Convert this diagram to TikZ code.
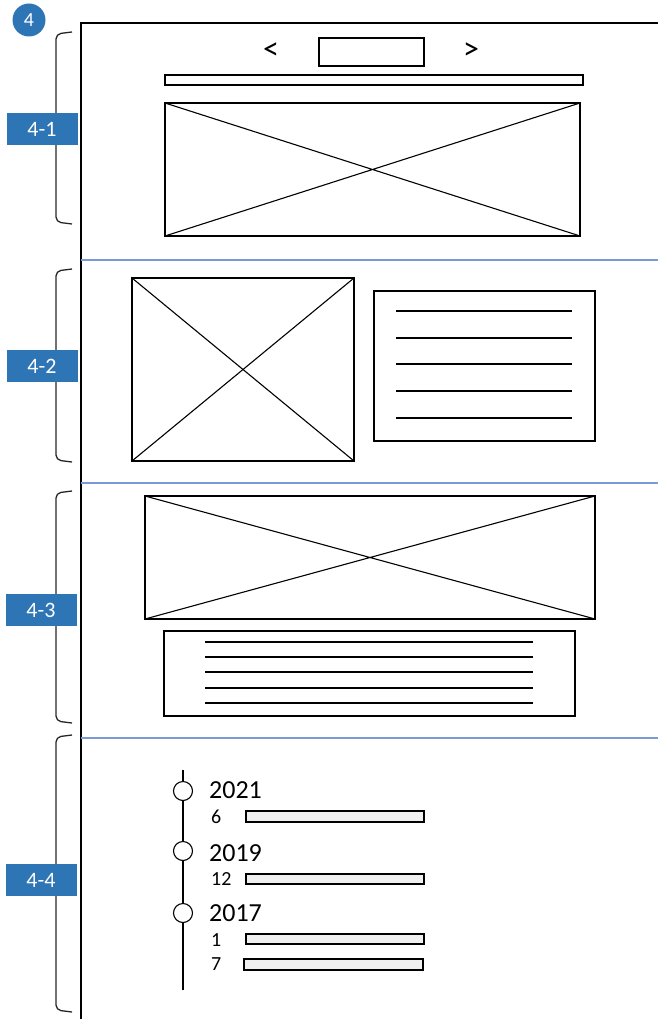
\documentclass[tikz,border=0pt]{standalone}
\usepackage{fontspec}
\setmainfont{Carlito}
\usepackage{xcolor}
\usepackage{tikz}
\usetikzlibrary{positioning}
\definecolor{tagblue}{RGB}{46, 117, 182}
\definecolor{sepblue}{RGB}{122, 153, 214}
\definecolor{barfill}{RGB}{240, 240, 240}

\begin{document}
\begin{tikzpicture}[
        x=1pt, y=-1pt,
        frame/.style={draw=black, line width=1.3pt},
        sep/.style={draw=sepblue, line width=1.3pt},
        brace/.style={draw=black!85, line width=1.3pt, rounded corners=5pt},
        wire/.style={draw=black, line width=1.1pt},
        tag/.style={rectangle, fill=tagblue, text=white, minimum width=71pt, minimum height=32pt, inner sep=0pt, font=\fontsize{22}{25}\selectfont},
        badge/.style={circle, fill=tagblue, text=white, minimum size=33pt, inner sep=0pt, font=\fontsize{20}{24}\selectfont},
        year/.style={anchor=west, inner sep=0pt, font=\fontsize{26}{30}\selectfont},
        month/.style={anchor=west, inner sep=0pt, font=\fontsize{20}{24}\selectfont},
        arrowtxt/.style={inner sep=0pt, font=\fontsize{32}{36}\selectfont},
        dot/.style={circle, draw=black, fill=white, line width=1.1pt, minimum size=19pt, inner sep=0pt},
        bar/.style={draw=black, fill=barfill, line width=1.1pt}
    ]
        \useasboundingbox (0,0) rectangle (658,1019);

        % Badge and page frame
        \node[badge] (badge) at (29,20) {4};
        \draw[frame] (81,1019) -- (81,23) -- (658,23);
        \draw[sep] (81,260) -- (658,260);
        \draw[sep] (81,483) -- (658,483);
        \draw[sep] (81,738) -- (658,738);

        % Section brackets
        \draw[brace] (72,32) -- (56,34) -- (56,222) -- (72,224);
        \draw[brace] (72,269) -- (56,271) -- (56,460) -- (72,462);
        \draw[brace] (72,491) -- (56,493) -- (56,721) -- (72,723);
        \draw[brace] (72,735) -- (56,737) -- (56,1010) -- (72,1012);

        % Section tags
        \node[tag] (t41) at (42,129) {4-1};
        \node[tag] (t42) at (42,366) {4-2};
        \node[tag] (t43) at (41,610) {4-3};
        \node[tag] (t44) at (41,880) {4-4};

        % 4-1: slider
        \node[arrowtxt] (prev) at (271,51) {<};
        \node[arrowtxt] (next) at (471,51) {>};
        \draw[wire] (319,38) rectangle (424,66);
        \draw[wire] (165,75) rectangle (583,85);
        \draw[wire] (165,103) rectangle (580,236);
        \draw[wire] (165,103) -- (580,236) (165,236) -- (580,103);

        % 4-2: picture and text
        \draw[wire] (132,278) rectangle (354,461);
        \draw[wire] (132,278) -- (354,461) (132,461) -- (354,278);
        \draw[wire] (374,291) rectangle (595,441);
        \foreach \y in {311,338,364,391,418}
            \draw[wire] (396,\y) -- (572,\y);

        % 4-3: banner and text
        \draw[wire] (145,496) rectangle (595,619);
        \draw[wire] (145,496) -- (595,619) (145,619) -- (595,496);
        \draw[wire] (164,631) rectangle (575,716);
        \foreach \y in {642,657,672,688,703}
            \draw[wire] (205,\y) -- (533,\y);

        % 4-4: timeline
        \coordinate (ltop) at (183,770);
        \coordinate (lbot) at (183,990);
        \draw[wire] (ltop) -- (lbot);
        \node[dot] (d21) at (183,791) {};
        \node[dot] (d19) at (183,851) {};
        \node[dot] (d17) at (183,913) {};
        \node[year] (y21) at (209,790) {2021};
        \node[year] (y19) at (209,853) {2019};
        \node[year] (y17) at (209,913) {2017};
        \node[month] (m6) at (211,817) {6};
        \node[month] (m12) at (211,879) {12};
        \node[month] (m1) at (211,940) {1};
        \node[month] (m7) at (211,964) {7};
        \draw[bar] (246,811) rectangle (424,822);
        \draw[bar] (246,874) rectangle (424,884);
        \draw[bar] (246,934) rectangle (424,944);
        \draw[bar] (244,959) rectangle (423,970);
    \end{tikzpicture}
\end{document}
